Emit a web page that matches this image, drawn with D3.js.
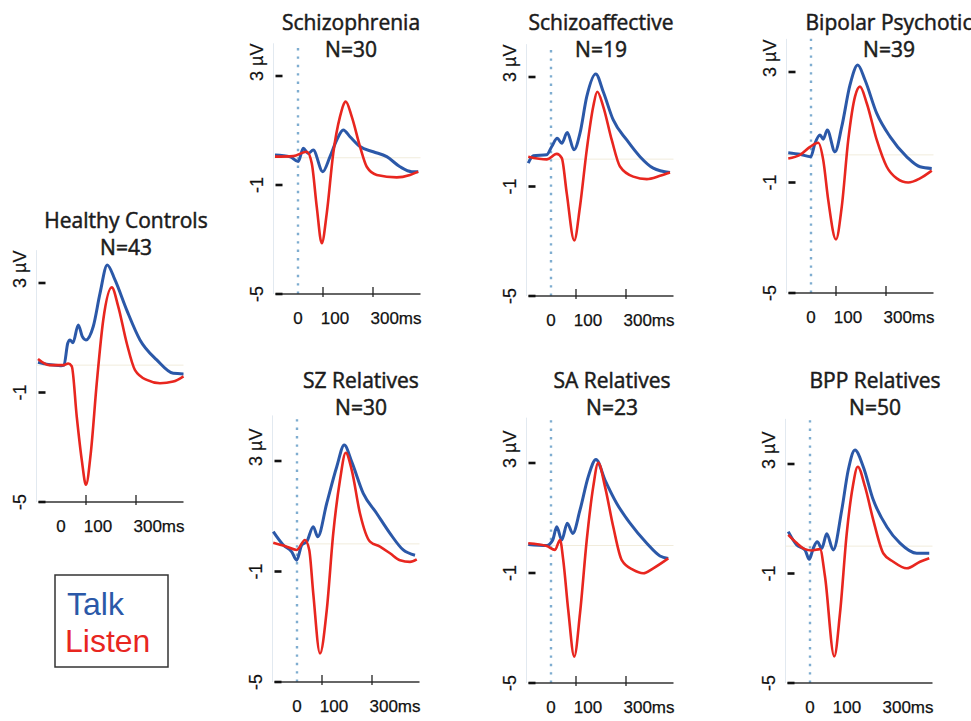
<!DOCTYPE html>
<html>
<head>
<meta charset="utf-8">
<script src="https://cdn.jsdelivr.net/npm/d3@7"></script>
<style>
body { margin: 0; background: #fff; }
</style>
</head>
<body>
<div id="chart"></div>
<script>
// ---- values: [time ms, amplitude µV] ----
var hcTalk = [[-92,0.1],[-50,0.02],[0,-0.02],[12,0.0],[27,0.8],[36,0.92],[48,0.82],[69,1.47],[85,1.05],[100,0.92],[129,1.41],[156,2.62],[185,3.66],[216,3.11],[263,2.01],[316,0.92],[383,0.19],[449,-0.3],[490,-0.32]];
var hcListen = [[-92,0.22],[-47,0.0],[9,0.0],[29,0.06],[43,-0.04],[63,-1.88],[83,-3.46],[100,-4.37],[119,-3.22],[143,-0.66],[169,1.65],[203,2.84],[229,2.14],[263,0.8],[296,-0.18],[343,-0.54],[396,-0.66],[449,-0.6],[490,-0.41]];

var szTalk = [[-92,0.1],[-32,0.04],[1,-0.14],[21,0.35],[41,0.16],[61,0.28],[99,-0.51],[128,0.04],[155,0.65],[181,1.02],[208,0.77],[248,0.41],[301,0.22],[355,0.04],[408,-0.33],[455,-0.51],[481,-0.51]];
var szListen = [[-92,0.04],[-19,0.06],[35,0.22],[55,-0.2],[75,-1.8],[95,-3.14],[115,-2.04],[141,0.16],[168,1.51],[191,2.06],[215,1.51],[248,0.41],[275,-0.33],[315,-0.63],[395,-0.72],[448,-0.63],[481,-0.51]];

var saTalk = [[-91,-0.15],[-71,0.12],[-17,0.16],[3,0.46],[25,0.76],[43,0.58],[65,0.97],[92,0.34],[116,0.95],[143,2.28],[179,3.11],[209,2.46],[249,1.43],[303,0.7],[356,0.09],[409,-0.33],[476,-0.49]];
var saListen = [[-91,0.09],[-17,-0.01],[23,0.19],[43,0.04],[63,-1.25],[93,-2.97],[116,-1.73],[143,0.34],[169,1.92],[185,2.46],[209,1.92],[243,0.7],[276,-0.27],[329,-0.64],[383,-0.73],[436,-0.61],[476,-0.49]];

var bpTalk = [[-91,0.08],[-44,0.02],[-1,-0.07],[16,0.42],[36,0.72],[49,0.57],[65,0.9],[96,0.11],[123,1.02],[156,2.53],[187,3.25],[216,2.71],[263,1.5],[316,0.66],[383,-0.07],[436,-0.43],[483,-0.49]];
var bpListen = [[-91,-0.13],[-44,0.0],[-4,0.29],[29,0.44],[49,-0.19],[69,-1.64],[100,-3.06],[123,-1.88],[149,0.54],[176,2.11],[196,2.47],[223,1.87],[263,0.54],[303,-0.43],[343,-0.85],[389,-1.0],[436,-0.85],[483,-0.57]];

var szrTalk = [[-95,0.44],[-55,-0.04],[-21,-0.29],[-1,-0.59],[19,-0.04],[39,0.08],[65,0.62],[83,0.26],[119,1.47],[159,2.79],[189,3.58],[219,2.97],[265,1.83],[319,1.1],[372,0.38],[425,-0.22],[472,-0.41]];
var szrListen = [[-95,0.04],[-41,-0.1],[-1,-0.22],[32,0.14],[49,-0.22],[65,-1.79],[92,-3.97],[119,-2.4],[145,0.38],[172,2.31],[195,3.3],[219,2.67],[252,1.1],[292,0.08],[332,-0.1],[372,-0.34],[412,-0.59],[452,-0.65],[479,-0.56]];

var sarTalk = [[-91,0.04],[-17,0.0],[7,0.2],[23,0.68],[43,0.2],[65,0.81],[87,0.44],[116,1.29],[149,2.5],[180,3.13],[216,2.38],[263,1.53],[316,0.81],[383,0.08],[436,-0.38],[469,-0.47]];
var sarListen = [[-91,0.08],[-17,-0.02],[16,-0.16],[36,0.2],[49,-0.53],[69,-2.35],[93,-4.04],[116,-2.47],[143,0.2],[169,2.14],[189,3.01],[216,2.14],[249,0.68],[283,-0.53],[329,-0.89],[369,-1.01],[409,-0.83],[469,-0.47]];

var bprTalk = [[-87,0.53],[-53,0.04],[-20,-0.14],[-3,-0.48],[13,-0.08],[29,0.16],[47,-0.08],[67,0.45],[93,-0.14],[127,1.32],[153,2.78],[180,3.51],[213,2.9],[253,1.69],[307,0.71],[360,0.11],[427,-0.26],[477,-0.26]];
var bprListen = [[-87,0.41],[-53,0.11],[-20,-0.11],[7,-0.16],[40,-0.11],[60,-1.11],[97,-4.03],[120,-2.45],[147,0.47],[171,2.17],[191,2.9],[220,2.17],[253,0.96],[293,-0.26],[333,-0.57],[387,-0.81],[440,-0.57],[477,-0.44]];

var groupNames = ["Healthy Controls","Schizophrenia","Schizoaffective","Bipolar Psychotic","SZ Relatives","SA Relatives","BPP Relatives"];
var groupN = ["N=43","N=30","N=19","N=39","N=30","N=23","N=50"];
var talkSeries = [hcTalk, szTalk, saTalk, bpTalk, szrTalk, sarTalk, bprTalk];
var listenSeries = [hcListen, szListen, saListen, bpListen, szrListen, sarListen, bprListen];

var yTickValues = [3, -1, -5];
var yTickLabels = ["3 µV", "-1", "-5"];
var xTickValues = [100, 300];
var xLabelValues = [0, 148, 392];
var xLabelTexts = ["0", "100", "300ms"];
var legendNames = ["Talk", "Listen"];

// ---- layout (pixel of t=0, pixels of +3 and -5 µV, title centre) ----
var layout = [
	{x0: 61,  y3: 283, y5: 502, tx: 126, ty: 228, dotted: false, ticks: true,  dotTop: 4.2},
	{x0: 298, y3: 76,  y5: 294, tx: 351, ty: 30,  dotted: true,  ticks: true,  dotTop: 4.2},
	{x0: 551, y3: 77,  y5: 296, tx: 601, ty: 30,  dotted: true,  ticks: true,  dotTop: 4.2},
	{x0: 811, y3: 72,  y5: 293, tx: 889, ty: 30,  dotted: true,  ticks: true,  dotTop: 4.2},
	{x0: 297, y3: 461, y5: 682, tx: 361, ty: 388, dotted: true,  ticks: true,  dotTop: 4.65},
	{x0: 551, y3: 463, y5: 683, tx: 612, ty: 388, dotted: true,  ticks: true,  dotTop: 4.65},
	{x0: 810, y3: 464, y5: 683, tx: 875, ty: 388, dotted: true,  ticks: false, dotTop: 4.65}
];

var talkColor = "#2b58a8";
var listenColor = "#e8261f";
var pxPerMs = 0.25;
var tStart = -98, tEnd = 490;

var svg = d3.select("#chart")
	.append("svg")
	.attr("width", 971)
	.attr("height", 721)
	.style("font-family", "'Liberation Sans', Arial, sans-serif");

svg.append("rect").attr("width", 971).attr("height", 721).attr("fill", "#fff");

for (var i = 0; i < groupNames.length; i++) {
	drawPanel(i);
}

function drawPanel(i) {
	var L = layout[i];
	var x = d3.scaleLinear()
		.domain([tStart, tEnd])
		.range([L.x0 + tStart * pxPerMs, L.x0 + tEnd * pxPerMs]);
	var y = d3.scaleLinear()
		.domain([-5, 3])
		.range([L.y5, L.y3]);

	var g = svg.append("g").attr("class", "panel");
	var left = x(tStart);

	// faint y axis and zero line
	g.append("line")
		.attr("x1", left).attr("x2", left)
		.attr("y1", y(-5)).attr("y2", y(L.dotTop))
		.attr("stroke", "#e2e9f0").attr("stroke-width", 1);
	g.append("line")
		.attr("x1", left).attr("x2", x(tEnd))
		.attr("y1", y(0)).attr("y2", y(0))
		.attr("stroke", "#f1ecdc").attr("stroke-width", 1);

	// stimulus onset
	if (L.dotted) {
		g.append("line")
			.attr("x1", x(0)).attr("x2", x(0))
			.attr("y1", y(-5)).attr("y2", y(L.dotTop))
			.attr("stroke", "#7fadd0")
			.attr("stroke-width", 2.4)
			.attr("stroke-dasharray", "2.4,6");
	}

	// x axis
	g.append("line")
		.attr("x1", left + 2).attr("x2", x(tEnd))
		.attr("y1", y(-5)).attr("y2", y(-5))
		.attr("stroke", "#333").attr("stroke-width", 1.3);
	if (L.ticks) {
		g.selectAll(".xt")
			.data(xTickValues)
			.enter()
			.append("line")
			.attr("x1", function(d) { return x(d); })
			.attr("x2", function(d) { return x(d); })
			.attr("y1", y(-5) - 7)
			.attr("y2", y(-5) + 3)
			.attr("stroke", "#222").attr("stroke-width", 1.3);
	}
	g.selectAll(".xl")
		.data(xLabelValues)
		.enter()
		.append("text")
		.attr("x", function(d) { return x(d); })
		.attr("y", y(-5) + 30)
		.attr("text-anchor", "middle")
		.style("font-size", "17px")
		.attr("fill", "#111")
		.attr("stroke", "#111").attr("stroke-width", 0.25)
		.text(function(d, j) { return xLabelTexts[j]; });

	// y ticks (short thick dashes)
	g.selectAll(".yt")
		.data(yTickValues)
		.enter()
		.append("line")
		.attr("x1", left + 2)
		.attr("x2", left + 9)
		.attr("y1", function(d) { return y(d); })
		.attr("y2", function(d) { return y(d); })
		.attr("stroke", "#111").attr("stroke-width", 2.6);
	g.selectAll(".yl")
		.data(yTickValues)
		.enter()
		.append("text")
		.attr("transform", function(d) { return "translate(" + (left - 11) + "," + y(d) + ") rotate(-90)"; })
		.attr("x", function(d, j) { return j == 0 ? -5 : 0; })
		.attr("text-anchor", function(d, j) { return j == 0 ? "start" : "middle"; })
		.style("font-size", "18px")
		.attr("fill", "#111")
		.attr("stroke", "#111").attr("stroke-width", 0.2)
		.text(function(d, j) { return yTickLabels[j]; });

	// the two waveforms
	var line = d3.line()
		.x(function(d) { return x(d[0]); })
		.y(function(d) { return y(d[1]); })
		.curve(d3.curveMonotoneX);
	g.append("path")
		.datum(talkSeries[i])
		.attr("d", line)
		.attr("fill", "none")
		.attr("stroke", talkColor)
		.attr("stroke-width", 3)
		.attr("stroke-linejoin", "round");
	g.append("path")
		.datum(listenSeries[i])
		.attr("d", line)
		.attr("fill", "none")
		.attr("stroke", listenColor)
		.attr("stroke-width", 2.6)
		.attr("stroke-linejoin", "round");

	// titles
	g.append("text")
		.attr("x", L.tx).attr("y", L.ty)
		.attr("text-anchor", "middle")
		.style("font-family", "'Open Sans', sans-serif")
		.style("font-size", "21px")
		.attr("fill", "#1b1b1b")
		.attr("stroke", "#1b1b1b").attr("stroke-width", 0.5)
		.text(groupNames[i]);
	g.append("text")
		.attr("x", L.tx).attr("y", L.ty + 27)
		.attr("text-anchor", "middle")
		.style("font-family", "'Open Sans', sans-serif")
		.style("font-size", "21px")
		.attr("fill", "#1b1b1b")
		.attr("stroke", "#1b1b1b").attr("stroke-width", 0.5)
		.text(groupN[i]);
}

// legend box
var legend = svg.append("g");
legend.append("rect")
	.attr("x", 55).attr("y", 575)
	.attr("width", 113).attr("height", 92)
	.attr("fill", "#fff")
	.attr("stroke", "#333").attr("stroke-width", 1.5);
legend.selectAll("text")
	.data(legendNames)
	.enter()
	.append("text")
	.attr("x", function(d, j) { return j == 0 ? 67 : 65; })
	.attr("y", function(d, j) { return j == 0 ? 615 : 652; })
	.style("font-size", "32px")
	.attr("fill", function(d, j) { return j == 0 ? talkColor : listenColor; })
	.text(function(d) { return d; });
</script>
</body>
</html>
